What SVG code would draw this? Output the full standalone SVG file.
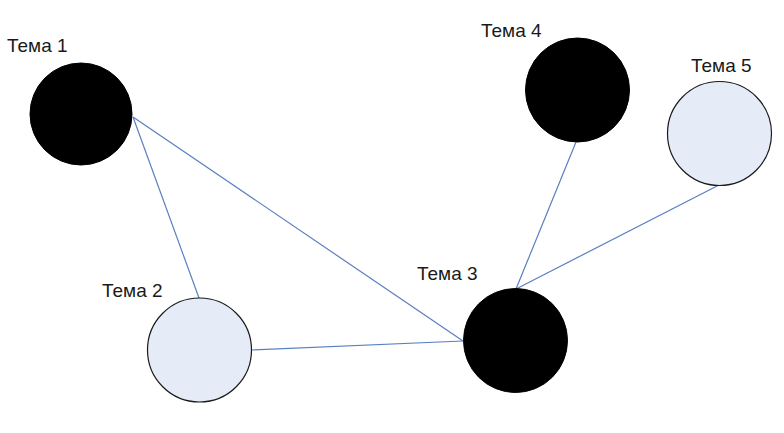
<svg xmlns="http://www.w3.org/2000/svg" width="784" height="433" viewBox="0 0 784 433">
<style>
.lbl{font-family:"Liberation Sans",Arial,sans-serif;font-size:19px;fill:#1a1a1a}
.dark{fill:#000;stroke:#000;stroke-width:1}
.light{fill:#e6ecf7;stroke:#1a1a1a;stroke-width:1.2}
.edge{stroke:#5a7fc0;stroke-width:1.2;fill:none}
</style>
<rect width="784" height="433" fill="#fff"/>
<g id="connectors">
<line class="edge" x1="133" y1="117" x2="199" y2="298"/>
<line class="edge" x1="133" y1="117" x2="463" y2="341"/>
<line class="edge" x1="252" y1="350" x2="463" y2="341"/>
<line class="edge" x1="576" y1="142" x2="516" y2="289"/>
<line class="edge" x1="719" y1="185" x2="516" y2="289"/>
</g>
<g id="node1">
<circle class="dark" cx="81" cy="114" r="51"/>
<text class="lbl" x="7" y="52">Тема 1</text>
</g>
<g id="node2">
<circle class="light" cx="199.5" cy="350" r="52"/>
<text class="lbl" x="102" y="297">Тема 2</text>
</g>
<g id="node3">
<circle class="dark" cx="515.5" cy="340.5" r="52"/>
<text class="lbl" x="417" y="280">Тема 3</text>
</g>
<g id="node4">
<circle class="dark" cx="577.5" cy="90" r="52"/>
<text class="lbl" x="481" y="37">Тема 4</text>
</g>
<g id="node5">
<circle class="light" cx="719.5" cy="133.5" r="52"/>
<text class="lbl" x="691" y="72">Тема 5</text>
</g>
</svg>
